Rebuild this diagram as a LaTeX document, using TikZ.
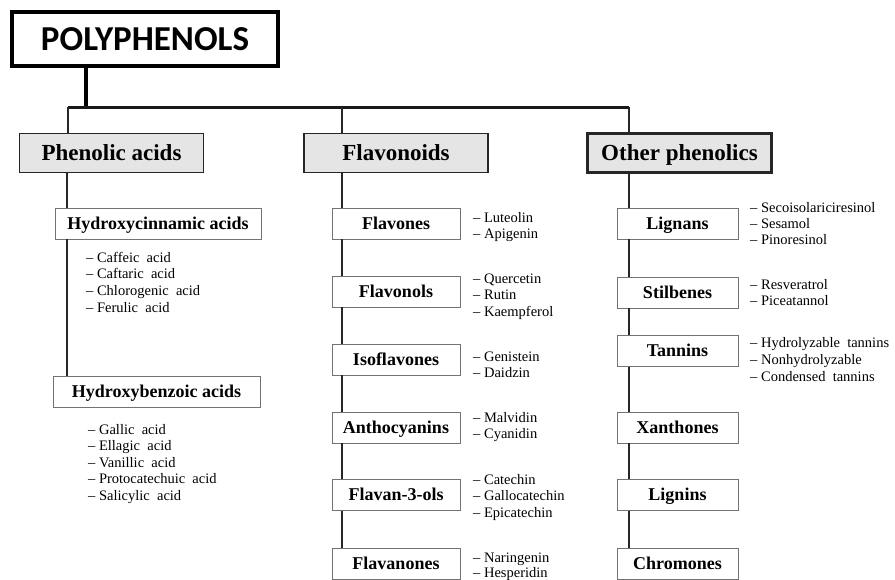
\documentclass[tikz,border=0pt]{standalone}
\usepackage{fontspec}
\setmainfont{Liberation Serif}
\newfontfamily\polyfont{Carlito}
\begin{document}
\begin{tikzpicture}[x=1pt,y=-1pt,
  rootbox/.style={draw=black,line width=4pt,fill=white,minimum width=266pt,minimum height=54pt,inner sep=0pt,text height=22.5pt,text depth=0pt,font=\polyfont\fontsize{35}{40}\selectfont\bfseries},
  headbox/.style={draw=black!85,line width=1.6pt,fill=black!10,minimum width=184pt,minimum height=39pt,inner sep=0pt,text height=15.2pt,text depth=0pt,font=\fontsize{23}{26}\selectfont\bfseries},
  subbox/.style={draw=black!55,line width=0.9pt,fill=white,minimum height=31pt,inner sep=0pt,text height=11.9pt,text depth=0pt,font=\fontsize{18}{21}\selectfont\bfseries},
  itemtext/.style={anchor=base west,inner sep=0pt,font=\fontsize{14.5}{16.7}\selectfont},
  mainline/.style={line width=3pt,black!90},
  stemline/.style={line width=2.2pt,black!85}]
\useasboundingbox (0,0) rectangle (895,579);
% root
\node[rootbox] (root) at (145,39) {POLYPHENOLS};
% headers
\node[headbox] (pa) at (111.5,153) {Phenolic acids};
\node[headbox] (fl) at (396,153) {Flavonoids};
\node[headbox,line width=2.6pt] (op) at (679.5,153) {Other phenolics};
% coordinates for stems
\coordinate (s0) at (86,107);
\coordinate (s1) at (68,107);
\coordinate (s2) at (342,107);
\coordinate (s3) at (629,107);
\coordinate (t1) at (67,0);
% sub boxes: phenolic acids
\node[subbox,minimum width=206pt] (hc) at (158,223.5) {Hydroxycinnamic acids};
\node[subbox,minimum width=207pt] (hb) at (156.5,392) {Hydroxybenzoic acids};
% flavonoids
\foreach \lab/\yy [count=\i] in {Flavones/223.5,Flavonols/291.5,Isoflavones/359.5,Anthocyanins/427.5,Flavan-3-ols/495,Flavanones/563.5}
  \node[subbox,minimum width=128pt] (f\i) at (396,\yy) {\lab};
% other phenolics
\foreach \lab/\yy [count=\i] in {Lignans/223.5,Stilbenes/292.5,Tannins/351,Xanthones/427.5,Lignins/495,Chromones/563.5}
  \node[subbox,minimum width=121pt] (o\i) at (677.5,\yy) {\lab};
% connectors
\draw[line width=4pt] (root.south -| s0) -- (s0);
\draw[mainline] (s1) -- (s3);
\draw[stemline] (s1) -- (pa.north -| s1);
\draw[stemline] (s2) -- (fl.north -| s2);
\draw[stemline] (s3) -- (op.north -| s3);
\draw[stemline] (pa.south -| t1) -- (hc.north -| t1);
\draw[stemline] (hc.south -| t1) -- (hb.north -| t1);
\draw[stemline] (fl.south -| s2) -- (f1.north -| s2);
\foreach \a/\b in {1/2,2/3,3/4,4/5,5/6}
  \draw[stemline] (f\a.south -| s2) -- (f\b.north -| s2);
\draw[stemline] (op.south -| s3) -- (o1.north -| s3);
\foreach \a/\b in {1/2,2/3,3/4,4/5,5/6}
  \draw[stemline] (o\a.south -| s3) -- (o\b.north -| s3);
% item lists
\foreach \t [count=\i] in {Caffeic\ \ acid,Caftaric\ \ acid,Chlorogenic\ \ acid,Ferulic\ \ acid}
  \node[itemtext] (hci\i) at (86,{262+16.7*(\i-1)}) {– \t};
\foreach \t [count=\i] in {Gallic\ \ acid,Ellagic\ \ acid,Vanillic\ \ acid,Protocatechuic\ \ acid,Salicylic\ \ acid}
  \node[itemtext] (hbi\i) at (88,{434+16.6*(\i-1)}) {– \t};
\foreach \t [count=\i] in {Luteolin,Apigenin}
  \node[itemtext] (f1i\i) at (473,{222+16.5*(\i-1)}) {– \t};
\foreach \t [count=\i] in {Quercetin,Rutin,Kaempferol}
  \node[itemtext] (f2i\i) at (473,{283+16.5*(\i-1)}) {– \t};
\foreach \t [count=\i] in {Genistein,Daidzin}
  \node[itemtext] (f3i\i) at (473,{361+16.5*(\i-1)}) {– \t};
\foreach \t [count=\i] in {Malvidin,Cyanidin}
  \node[itemtext] (f4i\i) at (473,{422+16.5*(\i-1)}) {– \t};
\foreach \t [count=\i] in {Catechin,Gallocatechin,Epicatechin}
  \node[itemtext] (f5i\i) at (473,{484+16.5*(\i-1)}) {– \t};
\foreach \t [count=\i] in {Naringenin,Hesperidin}
  \node[itemtext] (f6i\i) at (473,{562+15.5*(\i-1)}) {– \t};
\foreach \t [count=\i] in {Secoisolariciresinol,Sesamol,Pinoresinol}
  \node[itemtext] (o1i\i) at (750,{212+16*(\i-1)}) {– \t};
\foreach \t [count=\i] in {Resveratrol,Piceatannol}
  \node[itemtext] (o2i\i) at (750,{289+16*(\i-1)}) {– \t};
\foreach \t [count=\i] in {Hydrolyzable\ \ tannins,Nonhydrolyzable,Condensed\ \ tannins}
  \node[itemtext] (o3i\i) at (750,{347+17.3*(\i-1)}) {– \t};
\end{tikzpicture}
\end{document}
